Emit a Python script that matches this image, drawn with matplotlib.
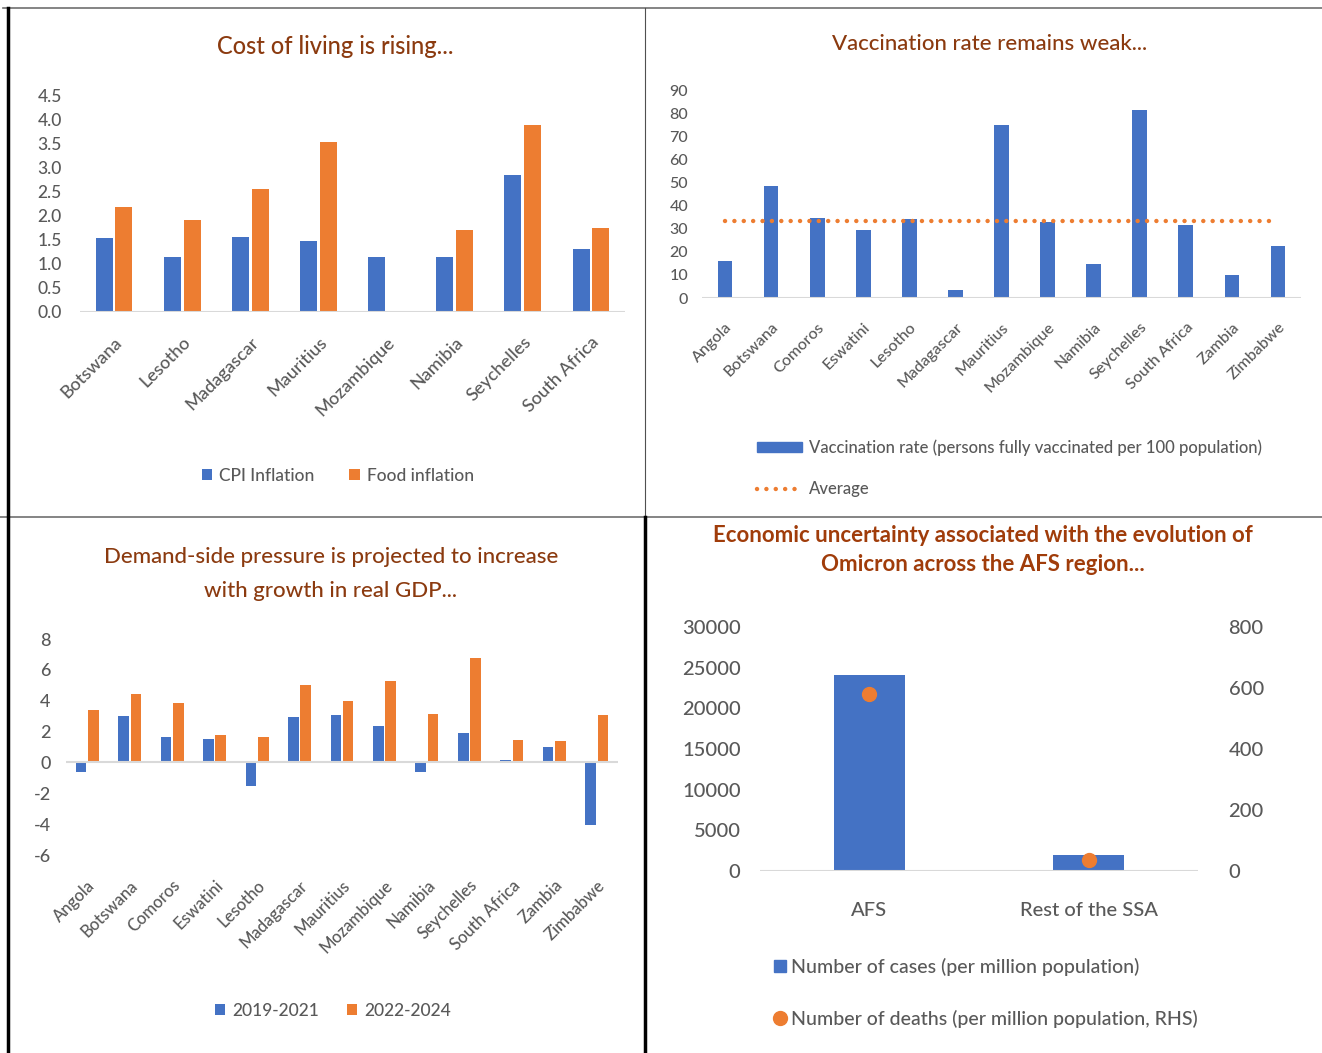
import matplotlib
matplotlib.use("Agg")
import matplotlib.pyplot as plt
import numpy as np
from matplotlib.lines import Line2D
from matplotlib.patches import Patch

plt.rcParams["font.family"] = ["Lato", "DejaVu Sans"]
plt.rcParams["font.weight"] = "medium"
plt.rcParams["axes.unicode_minus"] = False

BLUE = "#4472C4"
ORANGE = "#ED7D31"
TITLE = "#8B3A0F"
TICK = "#595959"
AXIS = "#D9D9D9"

# cost of living
cpi_countries = ["Botswana", "Lesotho", "Madagascar", "Mauritius", "Mozambique",
                 "Namibia", "Seychelles", "South Africa"]
cpi_inflation = [1.54, 1.14, 1.56, 1.48, 1.14, 1.14, 2.85, 1.32]
food_inflation = [2.19, 1.92, 2.56, 3.55, 0.03, 1.71, 3.89, 1.74]

# vaccination
vax_countries = ["Angola", "Botswana", "Comoros", "Eswatini", "Lesotho", "Madagascar",
                 "Mauritius", "Mozambique", "Namibia", "Seychelles", "South Africa",
                 "Zambia", "Zimbabwe"]
vax_rate = [16.1, 48.3, 34.8, 29.4, 34.2, 3.5, 74.8, 32.8, 14.7, 81.2, 31.8, 9.8, 22.4]
vax_average = 33.4

# real GDP growth
gdp_2019_2021 = [-0.6, 2.98, 1.62, 1.55, -1.51, 2.92, 3.07, 2.38, -0.6, 1.92, 0.15, 0.99, -4.06]
gdp_2022_2024 = [3.39, 4.45, 3.82, 1.77, 1.62, 5.05, 4.0, 5.29, 3.13, 6.74, 1.45, 1.36, 3.07]

# omicron
regions = ["AFS", "Rest of the SSA"]
cases = [24100, 2000]
deaths = [581, 35]

W, H = 1322, 1053
fig = plt.figure(figsize=(W / 100, H / 100), dpi=100)


def px_axes(left, top, right, bottom):
    return fig.add_axes([left / W, 1 - bottom / H, (right - left) / W, (bottom - top) / H])


def clean(ax, size):
    for s in ax.spines.values():
        s.set_visible(False)
    ax.tick_params(length=0, colors=TICK, labelsize=size)


def fx(x):
    return x / W


def fy(y):
    return 1 - y / H


# frame lines
fig.add_artist(Line2D([fx(3), 1], [fy(8), fy(8)], color="#707070", lw=1.2))
fig.add_artist(Line2D([0, 1], [fy(517), fy(517)], color="#707070", lw=1.2))
fig.add_artist(Line2D([fx(8), fx(8)], [fy(8), 0], color="black", lw=2.5))
fig.add_artist(Line2D([fx(645), fx(645)], [fy(8), fy(517)], color="#505050", lw=0.8))
fig.add_artist(Line2D([fx(645), fx(645)], [fy(517), 0], color="black", lw=2.5))

# ---- panel 1
ax1 = px_axes(80, 96, 625, 312)
x = np.arange(len(cpi_countries))
w = 0.25
ax1.bar(x - w / 2 - 0.02, cpi_inflation, w, color=BLUE, label="CPI Inflation")
ax1.bar(x + w / 2 + 0.02, food_inflation, w, color=ORANGE, label="Food inflation")
ax1.set_xlim(-0.5, len(x) - 0.5)
ax1.set_ylim(0, 4.5)
ax1.set_yticks(np.arange(0, 4.51, 0.5))
ax1.yaxis.set_major_formatter(matplotlib.ticker.FormatStrFormatter("%.1f"))
ax1.set_xticks(x)
ax1.set_xticklabels(cpi_countries, rotation=45, ha="right", rotation_mode="anchor")
clean(ax1, 12.5)
ax1.tick_params(axis="x", labelsize=13, pad=16)
ax1.tick_params(axis="y", pad=13)
ax1.axhline(0, color=AXIS, lw=1.5)
fig.text(fx(335), fy(47), "Cost of living is rising...", color=TITLE, fontsize=17,
         ha="center", va="center")
ax1.legend(loc="center", bbox_to_anchor=(fx(338), fy(476)), bbox_transform=fig.transFigure,
           ncol=2, frameon=False, fontsize=12.5, handlelength=0.6, handleheight=0.6,
           handletextpad=0.4, columnspacing=2.0, labelcolor=TICK)

# ---- panel 2
ax2 = px_axes(702, 90, 1301, 298)
x = np.arange(len(vax_countries))
ax2.bar(x, vax_rate, 0.32, color=BLUE)
ax2.plot(x, [vax_average] * len(x), color=ORANGE, lw=3.2, linestyle=(0, (0.01, 2.1)),
         dash_capstyle="round")
ax2.set_xlim(-0.5, len(x) - 0.5)
ax2.set_ylim(0, 90)
ax2.set_yticks(np.arange(0, 91, 10))
ax2.set_xticks(x)
ax2.set_xticklabels(vax_countries, rotation=45, ha="right", rotation_mode="anchor")
clean(ax2, 11.5)
ax2.tick_params(axis="x", pad=16)
ax2.tick_params(axis="y", pad=10)
ax2.axhline(0, color=AXIS, lw=1.5)
fig.text(fx(990), fy(44), "Vaccination rate remains weak...", color=TITLE, fontsize=16,
         ha="center", va="center")
vax_handles = [Patch(color=BLUE),
               Line2D([], [], color=ORANGE, lw=3.2, linestyle=(0, (0.01, 2.1)),
                      dash_capstyle="round")]
ax2.legend(vax_handles,
           ["Vaccination rate (persons fully vaccinated per 100 population)", "Average"],
           loc="upper left", bbox_to_anchor=(fx(742), fy(424)), bbox_transform=fig.transFigure,
           frameon=False, fontsize=12, handlelength=2.7, handleheight=0.55,
           handletextpad=0.4, labelspacing=1.55, labelcolor=TICK)

# ---- panel 3
ax3 = px_axes(66, 639, 618, 855)
x = np.arange(len(vax_countries))
w = 0.25
ax3.bar(x - w / 2 - 0.02, gdp_2019_2021, w, color=BLUE, label="2019-2021")
ax3.bar(x + w / 2 + 0.02, gdp_2022_2024, w, color=ORANGE, label="2022-2024")
ax3.set_xlim(-0.5, len(x) - 0.5)
ax3.set_ylim(-6, 8)
ax3.set_yticks(np.arange(-6, 9, 2))
ax3.set_xticks(x)
ax3.set_xticklabels(vax_countries, rotation=45, ha="right", rotation_mode="anchor")
clean(ax3, 13)
ax3.tick_params(axis="x", labelsize=12, pad=16)
ax3.tick_params(axis="y", pad=11)
ax3.axhline(0, color=AXIS, lw=1.5)
fig.text(fx(331), fy(574), "Demand-side pressure is projected to increase\nwith growth in real GDP...",
         color=TITLE, fontsize=16, ha="center", va="center", linespacing=1.85)
ax3.legend(loc="center", bbox_to_anchor=(fx(333), fy(1011)), bbox_transform=fig.transFigure,
           ncol=2, frameon=False, fontsize=12.5, handlelength=0.6, handleheight=0.6,
           handletextpad=0.4, columnspacing=1.6, labelcolor=TICK)

# ---- panel 4
ax4 = px_axes(760, 627, 1198, 871)
x = np.arange(len(regions))
ax4.bar(x, cases, 0.32, color=BLUE)
ax4.set_xlim(-0.5, len(x) - 0.5)
ax4.set_ylim(0, 30000)
ax4.set_yticks(np.arange(0, 30001, 5000))
ax4.set_xticks(x)
ax4.set_xticklabels(regions)
clean(ax4, 14.5)
ax4.tick_params(axis="y", pad=14)
ax4.tick_params(axis="x", pad=22)
ax4.axhline(0, color=AXIS, lw=1.5)
ax4b = ax4.twinx()
ax4b.plot(x, deaths, "o", color=ORANGE, markersize=10)
ax4b.set_ylim(0, 800)
ax4b.set_yticks(np.arange(0, 801, 200))
clean(ax4b, 14.5)
ax4b.tick_params(pad=22)
fig.text(fx(983), fy(550), "Economic uncertainty associated with the evolution of\nOmicron across the AFS region...",
         color="#A03C0A", fontsize=16, fontweight="bold", ha="center", va="center",
         linespacing=1.45)
om_handles = [Line2D([], [], marker="s", color=BLUE, linestyle="", markersize=9),
              Line2D([], [], marker="o", color=ORANGE, linestyle="", markersize=10)]
ax4.legend(om_handles,
           ["Number of cases (per million population)",
            "Number of deaths (per million population, RHS)"],
           loc="upper left", bbox_to_anchor=(fx(756), fy(940)), bbox_transform=fig.transFigure,
           frameon=False, fontsize=14, handlelength=0.7, handletextpad=0.2,
           labelspacing=1.75, labelcolor=TICK)

fig.savefig("out.png", dpi=100)
